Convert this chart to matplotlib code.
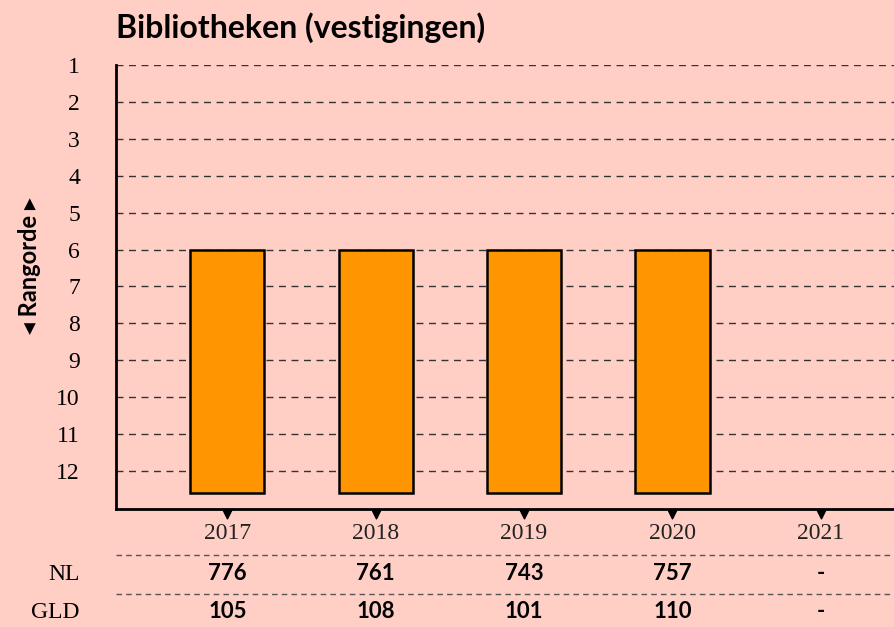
import numpy as np
import matplotlib
matplotlib.use("Agg")
import matplotlib.pyplot as plt
from matplotlib.transforms import blended_transform_factory

# data
years = ["2017", "2018", "2019", "2020", "2021"]
rank = [6, 6, 6, 6, np.nan]  # 2021: no value
nl_values = ["776", "761", "743", "757", "-"]
gld_values = ["105", "108", "101", "110", "-"]
row_labels = ["NL", "GLD"]

bg = "#ffcfc6"
bar_color = "#ff9500"
serif = ["Liberation Serif", "DejaVu Serif"]
sans = ["Lato", "DejaVu Sans"]

fig = plt.figure(figsize=(8.95, 6.27), dpi=100, facecolor=bg)
ax = fig.add_axes([116 / 895, 1 - 509 / 627, 1 - 116 / 895, (509 - 65) / 627])
ax.set_facecolor(bg)

x = np.arange(len(years))
base = 12.6
valid = ~np.isnan(rank)
heights = np.array(rank)[valid] - base
ax.bar(x[valid], heights, bottom=base, width=0.5, color=bar_color,
       edgecolor="black", linewidth=1.8, zorder=3)

ax.set_ylim(13.03, 1)
ax.set_xlim(-0.75, 4.5)
ax.set_yticks(range(1, 13))
ax.set_yticklabels([str(i) for i in range(1, 13)], fontfamily=serif, fontsize=17)
ax.set_xticks(x)
ax.set_xticklabels(years, fontfamily=serif, fontsize=17, color="#222222")
ax.tick_params(axis="y", length=0, pad=26)
ax.tick_params(axis="x", length=0, pad=10)

for r in range(1, 13):
    ax.axhline(r, color="#333333", linewidth=1.0, linestyle=(0, (5, 4)), zorder=1)

for side in ["top", "right"]:
    ax.spines[side].set_visible(False)
for side in ["left", "bottom"]:
    ax.spines[side].set_linewidth(2)
    ax.spines[side].set_color("black")

# little triangles under the x axis
ax.scatter(x, [-0.012] * len(x), marker="v", s=40, color="black",
           transform=blended_transform_factory(ax.transData, ax.transAxes),
           clip_on=False, zorder=5)

fig.text(116 / 895, 1 - 28 / 627, "Bibliotheken (vestigingen)", fontfamily=sans,
         fontweight="bold", fontsize=23, va="center", ha="left")

fig.text(30 / 895, 1 - 266 / 627, "\u25c2 Rangorde \u25b8", fontfamily=sans,
         fontweight="bold", fontsize=17, rotation=90, va="center", ha="center")

# table below the chart
tr = blended_transform_factory(ax.transData, fig.transFigure)
for yl in [555, 594]:
    fig.add_artist(plt.Line2D([116 / 895, 1], [1 - yl / 627] * 2, color="#555555",
                              linewidth=1.0, linestyle=(0, (4, 3))))
for label, vals, yl in [(row_labels[0], nl_values, 574), (row_labels[1], gld_values, 612)]:
    fig.text(80 / 895, 1 - yl / 627, label, fontfamily=serif, fontsize=17,
             ha="right", va="center")
    for xi, v in zip(x, vals):
        ax.text(xi, 1 - yl / 627, v, transform=tr, fontfamily=sans,
                fontweight="bold", fontsize=16, ha="center", va="center")

fig.savefig("out.png", dpi=100, facecolor=bg)
